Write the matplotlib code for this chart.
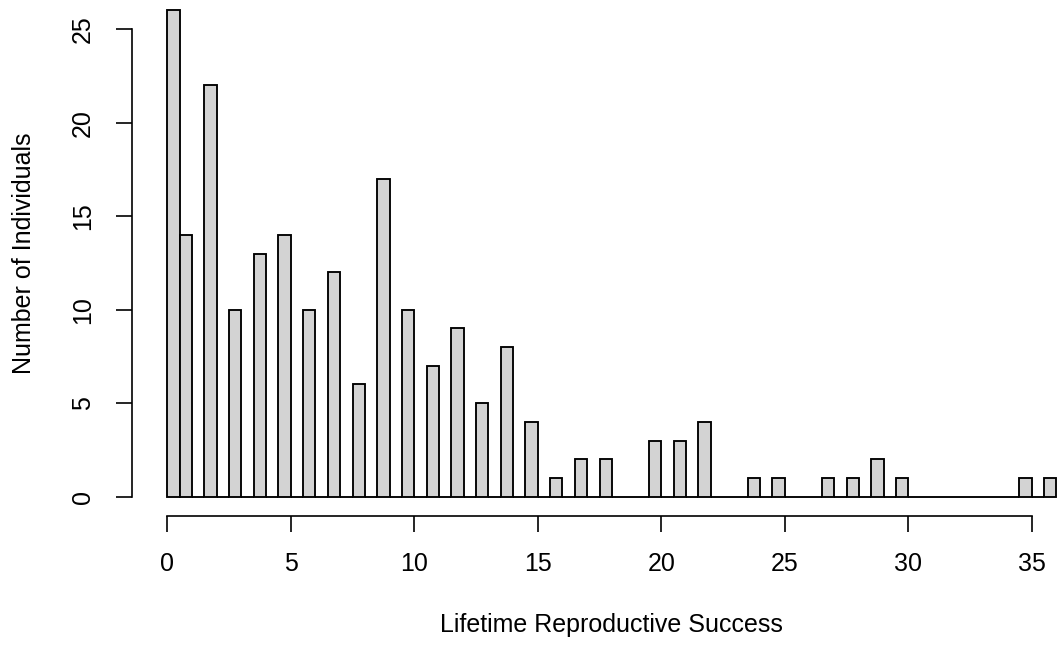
import numpy as np
import matplotlib
matplotlib.use("Agg")
import matplotlib.pyplot as plt

# Lifetime reproductive success: value -> number of individuals
lrs = np.arange(0, 37)
n_individuals = [26, 14, 22, 10, 13, 14, 10, 12, 6, 17,
                 10, 7, 9, 5, 8, 4, 1, 2, 2, 0,
                 3, 3, 4, 0, 1, 1, 0, 1, 1, 2,
                 1, 0, 0, 0, 0, 1, 1]
x_ticks = [0, 5, 10, 15, 20, 25, 30, 35]
y_ticks = [0, 5, 10, 15, 20, 25]

# R-style hist: breaks every 0.5, right-closed bins (first bin includes 0)
breaks = np.arange(0, 36.5, 0.5)
heights = np.zeros(len(breaks) - 1)
for v, c in zip(lrs, n_individuals):
    idx = 0 if v == 0 else int(round(v / 0.5)) - 1
    heights[idx] += c

plt.rcParams['font.family'] = ['Liberation Sans', 'DejaVu Sans']
fs = 18

fig = plt.figure(figsize=(10.63, 6.45), dpi=100)
ax = fig.add_axes([0.1239, 0.1998, 0.9034, 0.8141])

ax.bar(breaks[:-1], heights, width=0.5, align='edge',
       color='#d3d3d3', edgecolor='black', linewidth=1.35, clip_on=False)

ax.set_xlim(-1.44, 37.44)
ax.set_ylim(-1.04, 27.04)

for s in ['top', 'right']:
    ax.spines[s].set_visible(False)
ax.spines['left'].set_bounds(0, 25)
ax.spines['bottom'].set_bounds(0, 35)
for s in ['left', 'bottom']:
    ax.spines[s].set_linewidth(1.2)

ax.set_xticks(x_ticks)
ax.set_yticks(y_ticks)
ax.set_yticklabels([str(t) for t in y_ticks], rotation=90, va='center')
ax.tick_params(axis='both', length=11.5, width=1.2, labelsize=fs)
ax.tick_params(axis='x', pad=14)
ax.tick_params(axis='y', pad=15)

ax.set_xlabel('Lifetime Reproductive Success', fontsize=fs, va='center')
ax.xaxis.set_label_coords(0.5, -0.2074)
ax.set_ylabel('Number of Individuals', fontsize=fs, va='center')
ax.yaxis.set_label_coords(-0.112, 0.5)

fig.savefig('out.png', dpi=100)
